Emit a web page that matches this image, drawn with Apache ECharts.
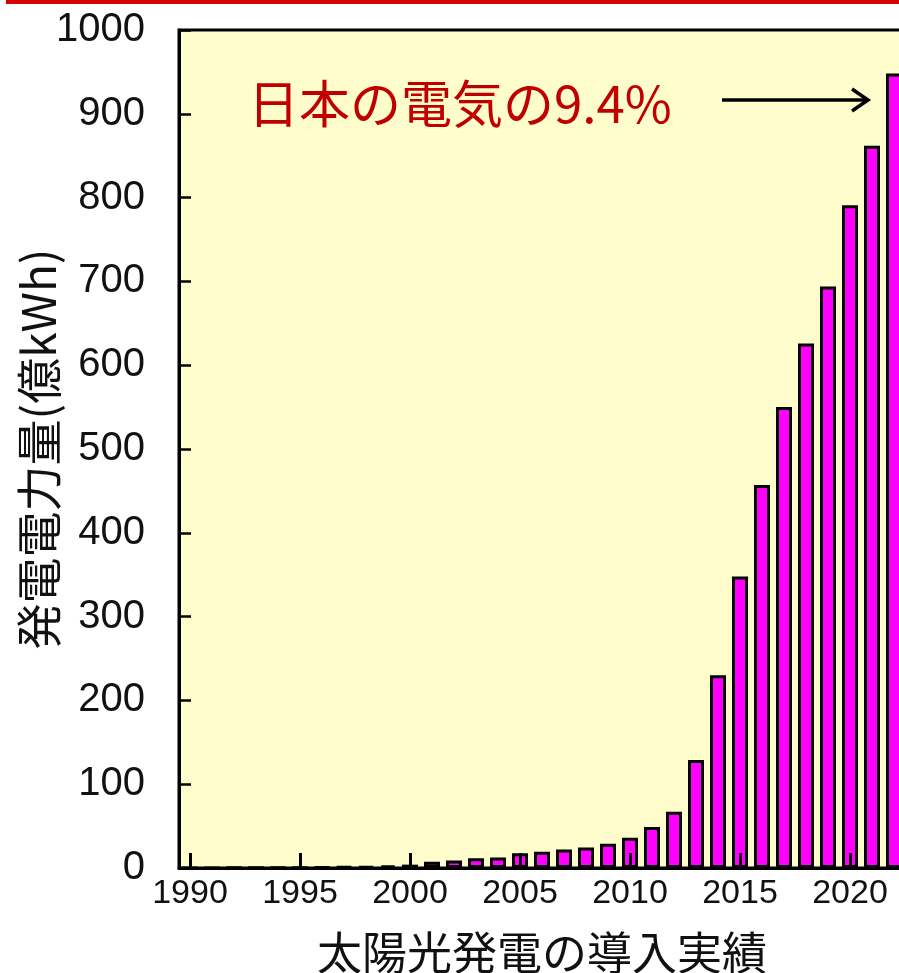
<!DOCTYPE html>
<html>
<head>
<meta charset="utf-8">
<script src="https://cdn.jsdelivr.net/npm/echarts@6/dist/echarts.min.js"></script>
<style>
  html, body { margin: 0; padding: 0; background: #ffffff; }
  #chart { width: 899px; height: 973px; }
</style>
</head>
<body>
<div id="chart"></div>
<script>
// 太陽光発電の年間発電電力量（億kWh）
const years = [
  '1990','1991','1992','1993','1994','1995','1996','1997','1998','1999',
  '2000','2001','2002','2003','2004','2005','2006','2007','2008','2009',
  '2010','2011','2012','2013','2014','2015','2016','2017','2018','2019',
  '2020','2021','2022'
];
const generation = [
  0.1, 0.2, 0.3, 0.4, 0.6, 0.8, 1.0, 1.5, 2.0, 3.0,
  4.0, 7.5, 9.0, 11.5, 12.5, 17.5, 19.5, 22, 24.5, 29,
  36, 49, 67, 129, 230, 348, 457, 550, 626, 694,
  791, 862, 948
];
const yTicks = { min: 0, max: 1000, step: 100 };
const noteText = '日本の電気の9.4%';

const latin = '"Liberation Sans", Arial, sans-serif';
const cjk = '"Noto Sans CJK JP", "Noto Sans", sans-serif';

const chart = echarts.init(document.getElementById('chart'), null, { renderer: 'canvas' });

chart.setOption({
  backgroundColor: '#ffffff',
  animation: false,
  grid: {
    left: 179, top: 30, right: -6, bottom: 105,
    outerBoundsMode: 'none',
    containLabel: false,
    show: true,
    backgroundColor: '#FFFDCC',
    borderColor: '#000000',
    borderWidth: 3
  },
  xAxis: {
    type: 'category',
    data: years,
    z: 5,
    name: '太陽光発電の導入実績',
    nameLocation: 'middle',
    nameGap: 62,
    nameMoveOverlap: false,
    nameTextStyle: { fontFamily: cjk, fontSize: 45, color: '#111111' },
    axisLine: { show: true, lineStyle: { color: '#000000', width: 3 } },
    axisTick: {
      show: true, inside: true, length: 15, interval: 4, alignWithLabel: true,
      lineStyle: { color: '#000000', width: 3 }
    },
    axisLabel: {
      interval: 4, margin: 9,
      fontFamily: latin, fontSize: 34, color: '#111111'
    },
    splitLine: { show: false }
  },
  yAxis: {
    type: 'value',
    min: yTicks.min, max: yTicks.max, interval: yTicks.step,
    z: 5,
    name: '発電電力量(億kWh)',
    nameLocation: 'middle',
    nameGap: 117,
    nameMoveOverlap: false,
    nameRotate: 90,
    nameTextStyle: { fontFamily: cjk, fontSize: 46, color: '#111111' },
    axisLine: { show: true, lineStyle: { color: '#000000', width: 3 } },
    axisTick: {
      show: true, inside: true, length: 12,
      lineStyle: { color: '#000000', width: 2.5 }
    },
    axisLabel: {
      margin: 34, fontFamily: latin, fontSize: 40, color: '#111111',
      formatter: (v) => String(v)
    },
    splitLine: { show: false }
  },
  series: [{
    type: 'bar',
    data: generation,
    barWidth: 16,
    itemStyle: { color: '#FF00FF', borderColor: '#000000', borderWidth: 3 }
  }],
  graphic: [
    // 上端の赤い帯
    { type: 'rect', shape: { x: 6, y: 0, width: 893, height: 4 }, style: { fill: '#D40000' }, z: 10 },
    {
      type: 'text', x: 248, y: 104, z: 10,
      style: { text: noteText, font: '51px ' + cjk, fill: '#C00000', verticalAlign: 'middle' }
    },
    // 矢印
    {
      type: 'line', z: 10,
      shape: { x1: 722, y1: 100, x2: 868, y2: 100 },
      style: { stroke: '#000000', lineWidth: 3.5 }
    },
    {
      type: 'polyline', z: 10,
      shape: { points: [[852, 89], [868, 100], [852, 111]] },
      style: { stroke: '#000000', lineWidth: 3.5, fill: null }
    }
  ]
});
</script>
</body>
</html>
